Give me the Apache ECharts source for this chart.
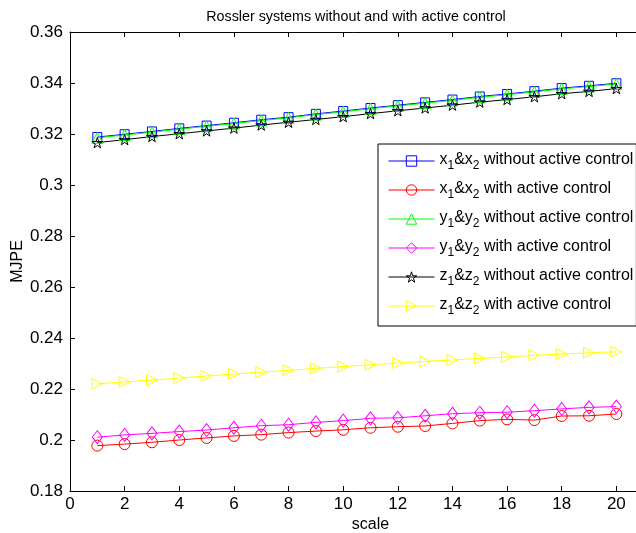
<!DOCTYPE html>
<html>
<head>
<meta charset="utf-8">
<script src="https://cdn.jsdelivr.net/npm/echarts@6/dist/echarts.min.js"></script>
<style>
  html, body { margin: 0; padding: 0; background: #fff; }
  #chart { width: 636px; height: 533px; }
</style>
</head>
<body>
<div id="chart"></div>
<script>
// scale values 1..20
var scales = [1,2,3,4,5,6,7,8,9,10,11,12,13,14,15,16,17,18,19,20];

// MJPE per scale
var xWithout = [0.3188,0.3199,0.3210,0.3222,0.3233,0.3244,0.3256,0.3266,0.3279,0.3290,
                0.3302,0.3313,0.3324,0.3335,0.3347,0.3357,0.3368,0.3380,0.3389,0.3399];
var xWith    = [0.1978,0.1984,0.1991,0.2000,0.2008,0.2016,0.2021,0.2029,0.2035,0.2040,
                0.2048,0.2052,0.2055,0.2065,0.2076,0.2081,0.2078,0.2094,0.2095,0.2102];
var yWithout = [0.3185,0.3196,0.3207,0.3219,0.3230,0.3241,0.3253,0.3263,0.3276,0.3287,
                0.3299,0.3310,0.3321,0.3332,0.3344,0.3354,0.3365,0.3377,0.3386,0.3396];
var yWith    = [0.2011,0.2020,0.2026,0.2033,0.2039,0.2048,0.2056,0.2060,0.2069,0.2076,
                0.2085,0.2087,0.2095,0.2103,0.2107,0.2109,0.2115,0.2122,0.2128,0.2131];
var zWithout = [0.3166,0.3178,0.3190,0.3201,0.3212,0.3223,0.3235,0.3246,0.3257,0.3268,
                0.3280,0.3291,0.3302,0.3313,0.3325,0.3335,0.3346,0.3358,0.3367,0.3378];
var zWith    = [0.2220,0.2228,0.2235,0.2243,0.2251,0.2259,0.2266,0.2273,0.2281,0.2288,
                0.2295,0.2302,0.2308,0.2314,0.2320,0.2326,0.2332,0.2337,0.2342,0.2346];

var seriesNames = [
  'x1&x2 without active control',
  'x1&x2 with active control',
  'y1&y2 without active control',
  'y1&y2 with active control',
  'z1&z2 without active control',
  'z1&z2 with active control'
];

var STAR = 'path://M50,0 L61,35 L98,35 L68,57 L79,91 L50,70 L21,91 L32,57 L2,35 L39,35 Z';
var TRI_RIGHT = 'path://M0,0 L100,50 L0,100 Z';

var FONT = '"Liberation Sans", Arial, Helvetica, sans-serif';

function pairs(vals) {
  return scales.map(function (s, i) { return [s, vals[i]]; });
}

function makeSeries(name, vals, color, symbol, size) {
  return {
    name: name,
    type: 'line',
    data: pairs(vals),
    symbol: symbol,
    symbolSize: size,
    symbolKeepAspect: true,
    showAllSymbol: true,
    lineStyle: { color: color, width: 1 },
    itemStyle: { color: 'rgba(255,255,255,0)', borderColor: color, borderWidth: 1 },
    emphasis: { disabled: true },
    animation: false
  };
}

var chart = echarts.init(document.getElementById('chart'), null, { renderer: 'canvas' });

chart.setOption({
  backgroundColor: '#fff',
  animation: false,
  textStyle: { fontFamily: FONT },
  title: {
    text: 'Rossler systems without and with active control',
    left: 351, top: 5, textAlign: 'center',
    textStyle: { fontFamily: FONT, fontSize: 14.3, fontWeight: 'normal', color: '#000' }
  },
  grid: { left: 70, top: 32, width: 601, bottom: 42, containLabel: false, outerBoundsMode: 'none' },
  legend: {
    orient: 'vertical',
    left: 378, top: 144,
    padding: [8, 3, 9, 10],
    itemWidth: 46, itemHeight: 13, itemGap: 9,
    backgroundColor: '#fff',
    borderColor: '#000', borderWidth: 1, borderRadius: 0,
    selectedMode: false,
    lineStyle: { width: 1 },
    itemStyle: { borderWidth: 1 },
    data: seriesNames,
    formatter: function (name) {
      return name.replace(/([xyz])([12])/g, '{n|$1}{s|$2}').replace(/(^|\})([^{}]+)(?=\{|$)/g, function (m, p, t) {
        return p + '{n|' + t + '}';
      });
    },
    textStyle: {
      fontFamily: FONT, fontSize: 16, color: '#000',
      rich: {
        n: { fontFamily: FONT, fontSize: 16, color: '#000', lineHeight: 18, verticalAlign: 'top', padding: [0, 0, 0, 0] },
        s: { fontFamily: FONT, fontSize: 12, color: '#000', lineHeight: 18, verticalAlign: 'top', padding: [8, 0, 0, 0] }
      }
    }
  },
  xAxis: [{
    type: 'value', min: 0, max: 22, interval: 2,
    name: 'scale', nameLocation: 'middle', nameGap: 26, nameMoveOverlap: false,
    nameTextStyle: { fontFamily: FONT, fontSize: 16, color: '#000' },
    axisLine: { show: true, lineStyle: { color: '#000', width: 1 } },
    axisTick: { show: true, inside: true, length: 5, lineStyle: { color: '#000' } },
    axisLabel: { color: '#000', fontFamily: FONT, fontSize: 17, margin: 5 },
    splitLine: { show: false }
  }, {
    type: 'value', min: 0, max: 22, interval: 2, position: 'top',
    axisLine: { show: true, lineStyle: { color: '#000', width: 1 } },
    axisTick: { show: true, inside: true, length: 5, lineStyle: { color: '#000' } },
    axisLabel: { show: false },
    splitLine: { show: false }
  }],
  yAxis: [{
    type: 'value', min: 0.18, max: 0.36, interval: 0.02,
    name: 'MJPE', nameLocation: 'middle', nameGap: 44, nameRotate: 90, nameMoveOverlap: false,
    nameTextStyle: { fontFamily: FONT, fontSize: 16, color: '#000' },
    axisLine: { show: true, lineStyle: { color: '#000', width: 1 } },
    axisTick: { show: true, inside: true, length: 5, lineStyle: { color: '#000' } },
    axisLabel: {
      color: '#000', fontFamily: FONT, fontSize: 17, margin: 7,
      formatter: function (v) { return String(+v.toFixed(2)); }
    },
    splitLine: { show: false }
  }],
  series: [
    makeSeries(seriesNames[0], xWithout, '#0000ff', 'rect', 9),
    makeSeries(seriesNames[1], xWith, '#ff0000', 'circle', 11),
    makeSeries(seriesNames[2], yWithout, '#00ff00', 'triangle', 11),
    makeSeries(seriesNames[3], yWith, '#ff00ff', 'diamond', [10, 13]),
    makeSeries(seriesNames[4], zWithout, '#000000', STAR, 11),
    makeSeries(seriesNames[5], zWith, '#ffff00', TRI_RIGHT, 11)
  ]
});
</script>
</body>
</html>
